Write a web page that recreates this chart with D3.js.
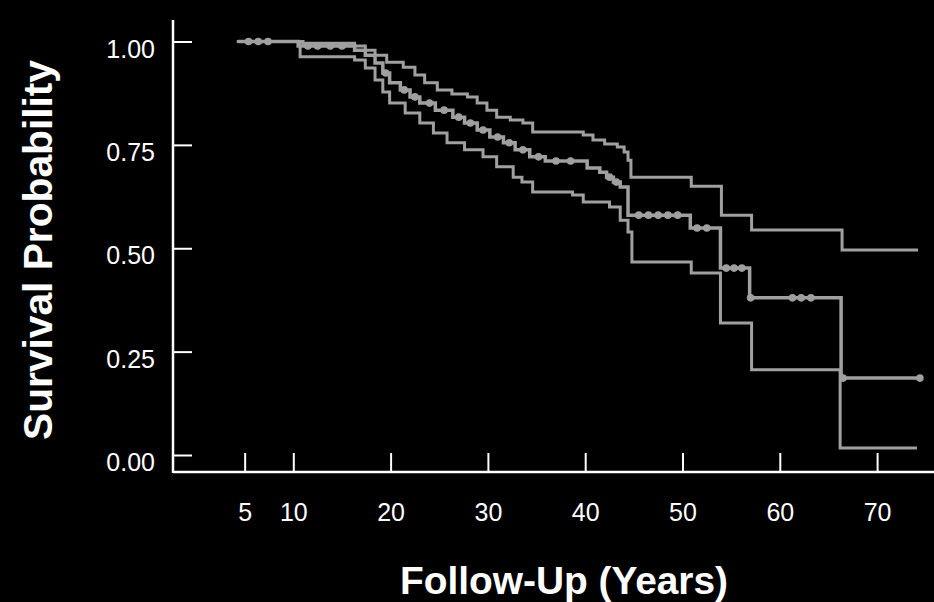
<!DOCTYPE html>
<html>
<head>
<meta charset="utf-8">
<script src="https://cdn.jsdelivr.net/npm/d3@7"></script>
<style>
  html, body { margin: 0; padding: 0; background: #000; }
  svg { display: block; }
</style>
</head>
<body>
<svg id="chart" width="934" height="602"></svg>
<script>
// Kaplan-Meier survival estimate with 95% confidence band
const estTime = [4.3, 10.5, 16.3, 17.4, 18.4, 19.2, 19.9, 21.0, 22.0, 23.0, 24.6, 26.4, 27.6, 28.9, 30.2, 31.6, 32.8, 34.3, 35.9, 40.2, 41.5, 42.2, 42.9, 43.6, 44.4, 50.8, 53.9, 56.9, 66.3, 74.4];
const estSurv = [1.0, 0.989, 0.979, 0.967, 0.948, 0.924, 0.900, 0.883, 0.866, 0.851, 0.834, 0.817, 0.803, 0.786, 0.769, 0.755, 0.738, 0.721, 0.711, 0.694, 0.684, 0.672, 0.660, 0.648, 0.580, 0.549, 0.452, 0.380, 0.186, 0.186];

const upperTime = [4.2, 11.0, 16.3, 17.4, 18.4, 19.6, 21.3, 22.5, 23.5, 24.8, 26.3, 27.9, 28.9, 29.9, 30.9, 32.3, 33.6, 34.6, 39.8, 40.8, 42.0, 43.3, 44.0, 44.4, 44.7, 50.9, 54.0, 57.1, 66.4, 74.2];
const upperSurv = [1.0, 0.996, 0.989, 0.979, 0.967, 0.950, 0.938, 0.919, 0.900, 0.883, 0.873, 0.866, 0.851, 0.834, 0.817, 0.810, 0.803, 0.781, 0.774, 0.762, 0.752, 0.745, 0.733, 0.713, 0.672, 0.650, 0.580, 0.544, 0.496, 0.496];

const lowerTime = [4.2, 10.7, 16.3, 17.4, 18.4, 19.2, 19.9, 21.5, 23.0, 24.4, 25.8, 27.6, 29.5, 30.9, 32.6, 33.5, 34.6, 38.7, 39.8, 42.5, 43.6, 44.4, 44.8, 50.9, 53.9, 57.1, 66.2, 74.1];
const lowerSurv = [1.0, 0.963, 0.955, 0.936, 0.907, 0.878, 0.851, 0.827, 0.803, 0.779, 0.755, 0.738, 0.721, 0.697, 0.672, 0.660, 0.636, 0.629, 0.612, 0.600, 0.568, 0.539, 0.467, 0.440, 0.319, 0.206, 0.017, 0.017];

// censored observations (follow-up time in years)
const censorTime = [5.4, 6.4, 7.4, 11.5, 12.5, 13.8, 15.0, 19.5, 21.4, 22.5, 24.0, 25.5, 27.0, 28.2, 29.5, 31.0, 32.2, 33.6, 35.2, 37.0, 38.5, 42.5, 43.2, 45.5, 46.5, 47.5, 48.5, 49.5, 51.5, 52.5, 54.5, 55.3, 56.1, 57.0, 61.3, 62.2, 63.2, 66.5, 74.4];

const xTicks = [5, 10, 20, 30, 40, 50, 60, 70];
const yTicks = [0, 0.25, 0.5, 0.75, 1.0];

const svg = d3.select("#chart");
const x = d3.scaleLinear().domain([0, 75]).range([196, 196 + 75 * 9.73]);
const y = d3.scaleLinear().domain([0, 1]).range([455, 41.5]);

const lineColor = "#a0a0a0";
const axisLeftX = 173, axisBottomY = 472;

const zip = (t, s) => t.map((d, i) => [d, s[i]]);
const step = d3.line().x(d => x(d[0])).y(d => y(d[1])).curve(d3.curveStepAfter);

const curves = svg.append("g").attr("fill", "none").attr("stroke", lineColor).attr("stroke-width", 3);
curves.append("path").attr("d", step(zip(upperTime, upperSurv)));
curves.append("path").attr("d", step(zip(lowerTime, lowerSurv)));
curves.append("path").attr("d", step(zip(estTime, estSurv))).attr("stroke-width", 3.5);

// survival value of the estimate at a given time (right-continuous step function)
const bis = d3.bisector(d => d).right;
const survAt = t => estSurv[Math.max(0, bis(estTime, t) - 1)];

svg.append("g").attr("fill", lineColor)
  .selectAll("circle").data(censorTime).join("circle")
  .attr("cx", d => x(d)).attr("cy", d => y(survAt(d))).attr("r", 3.8);

// axes
const font = "'Liberation Sans', Arial, sans-serif";
const yAxis = svg.append("g").attr("transform", `translate(${axisLeftX},0)`)
  .call(d3.axisLeft(y).tickValues(yTicks).tickSize(-19).tickPadding(18).tickFormat(d3.format(".2f")));
const xAxis = svg.append("g").attr("transform", `translate(0,${axisBottomY})`)
  .call(d3.axisBottom(x).tickValues(xTicks).tickSize(-19).tickPadding(26).tickFormat(d3.format("d")));

[yAxis, xAxis].forEach(g => {
  g.select(".domain").remove();
  g.selectAll(".tick line").attr("stroke", "#fff").attr("stroke-width", 2);
  g.selectAll(".tick text").attr("fill", "#fff").attr("font-family", font).attr("font-size", 25);
});
yAxis.selectAll(".tick text").attr("dy", "0.62em");
xAxis.selectAll(".tick text").attr("dy", "0.9em");

svg.append("line").attr("x1", axisLeftX).attr("x2", axisLeftX).attr("y1", 20).attr("y2", axisBottomY + 1)
  .attr("stroke", "#fff").attr("stroke-width", 2.5);
svg.append("line").attr("x1", axisLeftX).attr("x2", 934).attr("y1", axisBottomY).attr("y2", axisBottomY)
  .attr("stroke", "#fff").attr("stroke-width", 2.5);

// axis titles
svg.append("text").attr("transform", "translate(52,250) rotate(-90)")
  .attr("text-anchor", "middle").attr("fill", "#fff").attr("font-family", font)
  .attr("font-weight", "bold").attr("font-size", 40)
  .attr("textLength", 380).attr("lengthAdjust", "spacingAndGlyphs")
  .text("Survival Probability");

svg.append("text").attr("x", 564).attr("y", 594)
  .attr("text-anchor", "middle").attr("fill", "#fff").attr("font-family", font)
  .attr("font-weight", "bold").attr("font-size", 38)
  .attr("textLength", 328).attr("lengthAdjust", "spacingAndGlyphs")
  .text("Follow-Up (Years)");
</script>
</body>
</html>
